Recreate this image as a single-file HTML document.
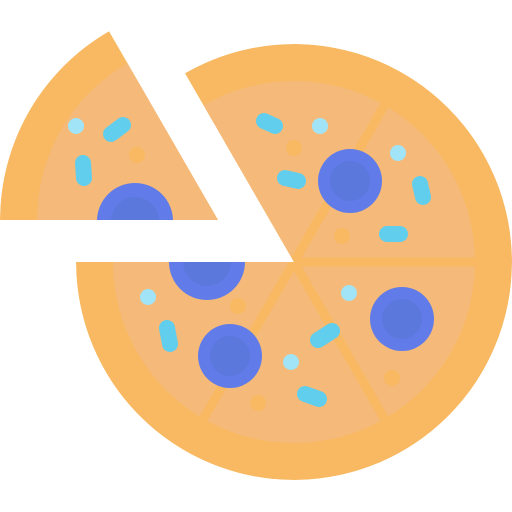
<!DOCTYPE html>
<html><head><meta charset="utf-8"><style>html,body{margin:0;padding:0;background:#fff}svg{display:block}</style></head>
<body>
<svg width="512" height="512" viewBox="0 0 512 512">
<defs>
<clipPath id="mainClip"><path d="M294,262 L76,262 A218,218 0 1,0 185,73.2 Z"/></clipPath>
<clipPath id="sliceClip"><path d="M218,220 L0,220 A218,218 0 0,1 109,31.2 Z"/></clipPath>
</defs>
<g clip-path="url(#mainClip)">
<circle cx="294" cy="262" r="218" fill="#F8B962"/>
<circle cx="294" cy="262" r="181" fill="#F5BA79"/>
<g stroke="#F8B962" stroke-width="9">
<line x1="294" y1="262" x2="475" y2="262"/>
<line x1="294" y1="262" x2="384.5" y2="105.2"/>
<line x1="294" y1="262" x2="384.5" y2="418.8"/>
<line x1="294" y1="262" x2="203.5" y2="418.8"/>
</g>
<g fill="#F8B962">
<circle cx="294" cy="148" r="8"/><circle cx="342" cy="236" r="8"/><circle cx="238" cy="306" r="8"/><circle cx="392" cy="378" r="8"/><circle cx="258" cy="403" r="8"/>
</g>
<g>
<circle cx="350" cy="181" r="32" fill="#617CE8"/><circle cx="350" cy="181" r="20" fill="#5B78DC"/>
<circle cx="402" cy="319" r="32" fill="#617CE8"/><circle cx="402" cy="319" r="20" fill="#5B78DC"/>
<circle cx="230" cy="356" r="32" fill="#617CE8"/><circle cx="230" cy="356" r="20" fill="#5B78DC"/>
<circle cx="207" cy="262" r="38" fill="#617CE8"/><circle cx="207" cy="262" r="24" fill="#5B78DC"/>
</g>
<g fill="#A1E4F7">
<circle cx="320" cy="126" r="8"/><circle cx="398" cy="153" r="8"/><circle cx="148" cy="297" r="8"/><circle cx="349" cy="293" r="8"/><circle cx="291" cy="362" r="8"/>
</g>
<g stroke="#60CEEC" stroke-width="16" stroke-linecap="round">
<line x1="264" y1="121" x2="275" y2="126"/>
<line x1="285" y1="178" x2="298" y2="181"/>
<line x1="420" y1="184" x2="423" y2="197"/>
<line x1="387" y1="234" x2="400" y2="234"/>
<line x1="167" y1="328" x2="170" y2="344"/>
<line x1="318" y1="340" x2="332" y2="331"/>
<line x1="305" y1="394" x2="319" y2="399"/>
</g>
</g>
<g clip-path="url(#sliceClip)">
<circle cx="218" cy="220" r="218" fill="#F8B962"/>
<circle cx="218" cy="220" r="181" fill="#F5BA79"/>
<circle cx="137" cy="155" r="8" fill="#F8B962"/>
<circle cx="135" cy="221" r="38" fill="#617CE8"/><circle cx="135" cy="221" r="24" fill="#5B78DC"/>
<circle cx="76" cy="126" r="8" fill="#A1E4F7"/>
<g stroke="#60CEEC" stroke-width="16" stroke-linecap="round">
<line x1="111" y1="134" x2="123" y2="125"/>
<line x1="83" y1="163" x2="84" y2="178"/>
</g>
</g>
</svg>
</body></html>
